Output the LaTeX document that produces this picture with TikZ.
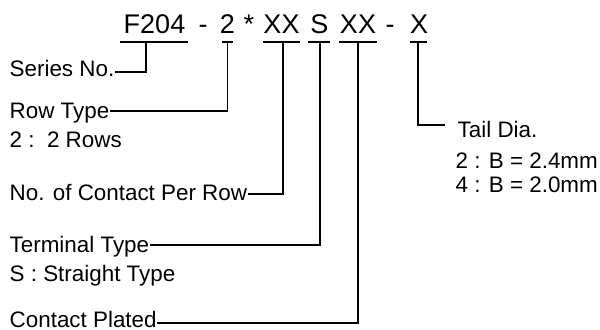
\documentclass[tikz,border=0pt]{standalone}
\usepackage{fontspec}
\setmainfont{Liberation Sans}
\usetikzlibrary{arrows,positioning}
\tikzset{every picture/.style={line width=0.7pt}}
\tikzstyle{part}=[anchor=base,inner sep=0pt,font=\fontsize{13.5}{16}\selectfont]
\tikzstyle{lbl}=[anchor=base west,inner sep=0pt,font=\fontsize{11.2}{13}\selectfont]

\begin{document}
\begin{tikzpicture}[x=0.5pt,y=-0.5pt]
\useasboundingbox (0,0) rectangle (600,329);
% code string
\node[part] (P1) at (154.5,33) {F204};
\node[part] (M1) at (203,33) {-};
\node[part] (P2) at (227.5,33) {2};
\node[part] (St) at (249,33) {*};
\node[part] (P3) at (281.5,33) {XX};
\node[part] (P4) at (319.5,33) {S};
\node[part] (P5) at (358,33) {XX};
\node[part] (M2) at (390,33) {-};
\node[part] (P6) at (419,33) {X};
% underlines
\draw (120,42) -- (188,42);
\draw (222,42) -- (233,42);
\draw (263,42) -- (300,42);
\draw (308,42) -- (330,42);
\draw (339,42) -- (377,42);
\draw (410,42) -- (427,42);
\coordinate (U1) at (146,42);
\coordinate (U2) at (227.5,42);
\coordinate (U3) at (283,42);
\coordinate (U4) at (320,42);
\coordinate (U5) at (358,42);
\coordinate (U6) at (418,42);
% labels
\node[lbl] (L1) at (9,76) {Series No.};
\node[lbl] (L2) at (9,118) {Row Type};
\node[lbl] (L2a) at (9,147) {2 :\ \ 2 Rows};
\node[lbl] (L3) at (9,200) {No. of Contact Per Row};
\node[lbl] (L4) at (9,252) {Terminal Type};
\node[lbl] (L4a) at (9,281) {S : Straight Type};
\node[lbl] (L5) at (9,327) {Contact Plated};
\node[lbl] (L6) at (457,137) {Tail Dia.};
\node[lbl] (L6a) at (455,168) {2 : B = 2.4mm};
\node[lbl] (L6b) at (455,192) {4 : B = 2.0mm};
% leaders
\draw (U1) |- ([yshift=2pt]L1.base east);
\draw (U2) |- ([yshift=3.5pt]L2.base east);
\draw (U3) |- ([yshift=3pt]L3.base east);
\draw (U4) |- ([yshift=3.5pt]L4.base east);
\draw (U5) |- ([yshift=2pt]L5.base east);
\draw (U6) |- ([xshift=-6pt,yshift=6pt]L6.base west);
\end{tikzpicture}
\end{document}
